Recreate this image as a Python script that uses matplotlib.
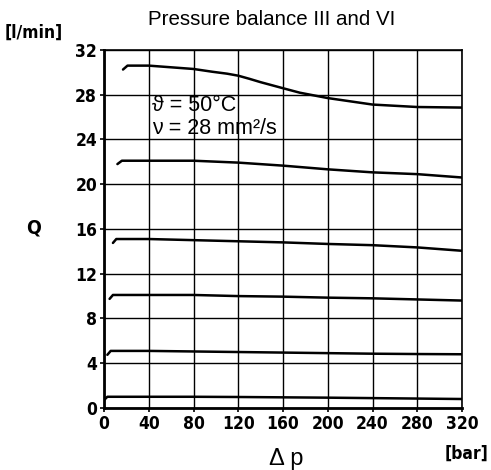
import numpy as np
import matplotlib
matplotlib.use("Agg")
import matplotlib.pyplot as plt

# pressure difference [bar] and flow [l/min]
dp_top = [17, 21, 40, 80, 97, 110, 120, 130, 140, 160, 175, 200, 240, 280, 320]
q_top = [30.25, 30.6, 30.6, 30.3, 30.05, 29.88, 29.7, 29.42, 29.12, 28.58, 28.18, 27.7,
         27.12, 26.9, 26.85]

dp_22 = [12, 16, 40, 80, 120, 160, 200, 240, 280, 320]
q_22 = [21.8, 22.1, 22.1, 22.1, 21.93, 21.66, 21.33, 21.06, 20.9, 20.6]

dp_15 = [8, 11, 40, 80, 120, 160, 200, 240, 280, 320]
q_15 = [14.75, 15.1, 15.1, 15.0, 14.9, 14.8, 14.66, 14.55, 14.35, 14.05]

dp_10 = [5, 8, 40, 80, 120, 160, 200, 240, 280, 320]
q_10 = [9.75, 10.1, 10.1, 10.1, 10.0, 9.95, 9.86, 9.8, 9.7, 9.6]

dp_5 = [3, 6, 40, 80, 120, 160, 200, 240, 280, 320]
q_5 = [4.75, 5.1, 5.1, 5.05, 5.0, 4.95, 4.9, 4.85, 4.82, 4.8]

dp_1 = [0.5, 3, 40, 80, 120, 160, 200, 240, 280, 320]
q_1 = [0.75, 1.0, 1.0, 1.0, 0.98, 0.95, 0.92, 0.88, 0.84, 0.8]

x_ticks = [0, 40, 80, 120, 160, 200, 240, 280, 320]
y_ticks = [0, 4, 8, 12, 16, 20, 24, 28, 32]

tick_font = dict(family=["DejaVu Sans"], stretch="condensed", weight="bold", size=12.5)
text_family = ["Liberation Sans", "DejaVu Sans"]

fig = plt.figure(figsize=(4.91, 4.70), dpi=100)
ax = fig.add_axes([0.2118, 0.132, 0.7292, 0.7617])

for dp, q in [(dp_top, q_top), (dp_22, q_22), (dp_15, q_15),
              (dp_10, q_10), (dp_5, q_5), (dp_1, q_1)]:
    ax.plot(dp, q, color="black", lw=1.8, solid_capstyle="round",
            solid_joinstyle="round")

ax.set_xlim(0, 320)
ax.set_ylim(0, 32)
ax.set_xticks(x_ticks)
ax.set_yticks(y_ticks)
ax.set_xticklabels([str(v) for v in x_ticks], fontdict=tick_font)
ax.set_yticklabels([str(v) for v in y_ticks], fontdict=tick_font)
ax.tick_params(length=3, width=1.2, pad=2, color="black")
ax.grid(True, color="black", lw=1.0)
for side in ["left", "bottom"]:
    ax.spines[side].set_linewidth(2.0)
for side in ["right", "top"]:
    ax.spines[side].set_linewidth(1.2)

ax.text(43, 27.95, "ϑ = 50°C", fontsize=15.5, va="top", family=text_family)
ax.text(43, 24.0, "ν = 28 mm²/s", fontsize=15.5, va="bottom", family=text_family)

fig.text(0.553, 0.958, "Pressure balance III and VI", ha="center", va="center",
         fontsize=14.8, family=text_family)
fig.text(0.01, 0.93, "[l/min]", ha="left", va="center", **tick_font)
fig.text(0.068, 0.515, "Q", ha="center", va="center",
         family=["DejaVu Sans"], stretch="condensed", weight="bold", size=14)
fig.text(0.583, 0.011, "Δ p", ha="center", va="baseline", fontsize=17, family=text_family)
fig.text(0.995, 0.035, "[bar]", ha="right", va="center", **tick_font)

fig.savefig("out.png", dpi=100)
